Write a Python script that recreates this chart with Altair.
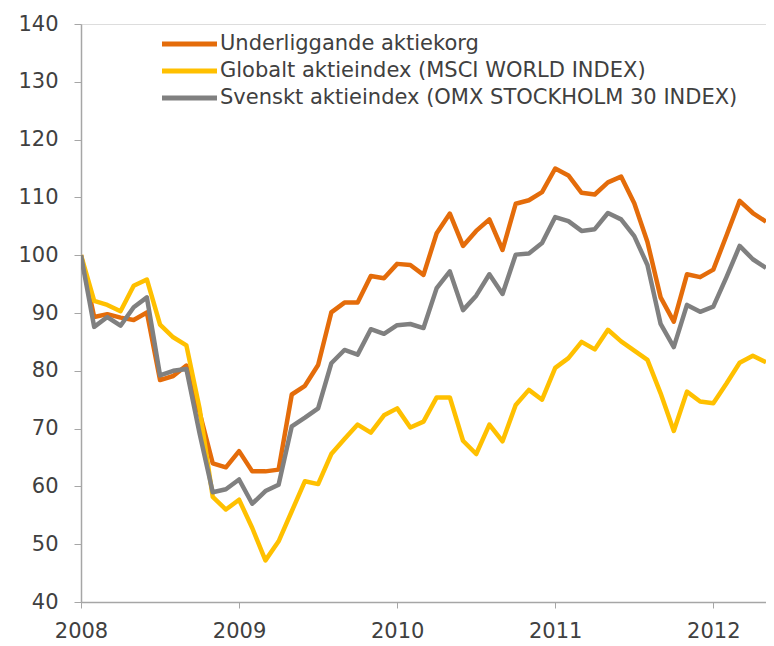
import altair as alt
import pandas as pd

series_names = [
    "Underliggande aktiekorg",
    "Globalt aktieindex (MSCI WORLD INDEX)",
    "Svenskt aktieindex (OMX STOCKHOLM 30 INDEX)",
]
colors = ["#E46C0A", "#FFC000", "#808080"]

# monthly values, Jan 2008 onward
underliggande = [100, 89.3, 89.8, 89.2, 88.8, 90.1, 78.4, 79.1, 80.9, 72.8,
                 64.0, 63.3, 66.1, 62.6, 62.6, 62.9, 75.9, 77.4, 81.0, 90.1,
                 91.8, 91.8, 96.4, 96.0, 98.5, 98.3, 96.6, 103.8, 107.2, 101.6,
                 104.2, 106.2, 100.9, 108.9, 109.5, 110.9, 115.0, 113.8, 110.8, 110.5,
                 112.6, 113.6, 109.0, 102.3, 92.7, 88.5, 96.7, 96.2, 97.5, 103.4,
                 109.4, 107.3, 105.8]
globalt = [100, 92.1, 91.4, 90.3, 94.7, 95.8, 88.0, 85.8, 84.4, 73.5,
           58.2, 56.0, 57.7, 52.8, 47.2, 50.5, 55.7, 60.9, 60.4, 65.6,
           68.2, 70.7, 69.3, 72.3, 73.5, 70.2, 71.2, 75.4, 75.4, 67.9,
           65.6, 70.7, 67.8, 74.1, 76.7, 75.0, 80.5, 82.2, 85.0, 83.7,
           87.1, 85.1, 83.5, 81.9, 76.1, 69.6, 76.4, 74.7, 74.4, 77.8,
           81.4, 82.6, 81.5]
svenskt = [100, 87.6, 89.3, 87.8, 91.0, 92.7, 79.2, 80.0, 80.3, 69.2,
           59.0, 59.5, 61.2, 57.0, 59.2, 60.3, 70.4, 71.9, 73.5, 81.3,
           83.6, 82.8, 87.2, 86.4, 87.9, 88.1, 87.4, 94.3, 97.2, 90.5,
           93.0, 96.7, 93.3, 100.1, 100.3, 102.1, 106.6, 105.9, 104.2, 104.5,
           107.3, 106.2, 103.3, 98.3, 88.1, 84.1, 91.4, 90.2, 91.1, 96.2,
           101.6, 99.3, 97.8]
year_ticks = [2008, 2009, 2010, 2011, 2012]
y_ticks = [40, 50, 60, 70, 80, 90, 100, 110, 120, 130, 140]

rows = []
for name, vals, order in zip(series_names, [underliggande, globalt, svenskt], [0, 1, 2]):
    for i, v in enumerate(vals):
        rows.append({"t": 2008 + i / 12.0, "value": v, "serie": name, "ord": order})
df = pd.DataFrame(rows)

legend_df = pd.DataFrame({"serie": series_names, "row": list(range(len(series_names)))})

FONT = "DejaVu Sans"
color_scale = alt.Scale(domain=series_names, range=colors)

lines = alt.Chart(df).mark_line(strokeWidth=4.5, strokeJoin="round", clip=True).encode(
    x=alt.X("t:Q",
            scale=alt.Scale(domain=[2008, 2008 + 52 / 12.0], nice=False, zero=False),
            axis=alt.Axis(values=year_ticks, format="d", title=None, grid=False,
                          tickSize=6, labelPadding=12, labelFontSize=21,
                          labelFont=FONT, labelColor="#404040",
                          domainColor="#a6a6a6", tickColor="#a6a6a6",
                          domainWidth=1.5, labelOverlap=False, labelFlush=False)),
    y=alt.Y("value:Q",
            scale=alt.Scale(domain=[40, 140], nice=False, zero=False),
            axis=alt.Axis(values=y_ticks, title=None, grid=False,
                          tickSize=7, labelPadding=16, labelFontSize=21,
                          labelFont=FONT, labelColor="#404040",
                          domainColor="#a6a6a6", tickColor="#a6a6a6",
                          domainWidth=1.5)),
    color=alt.Color("serie:N", scale=color_scale, legend=None),
    detail="serie:N",
    order="ord:Q",
)

legend_base = alt.Chart(legend_df).transform_calculate(
    py="20 + datum.row * 27"
)

legend_lines = legend_base.mark_rule(strokeWidth=5).encode(
    x=alt.value(81),
    x2=alt.value(136),
    y=alt.Y("py:Q", scale=None),
    color=alt.Color("serie:N", scale=color_scale, legend=None),
)

legend_text = legend_base.mark_text(
    align="left", baseline="middle", dx=0, fontSize=21, font=FONT, color="#404040"
).encode(
    x=alt.value(139),
    y=alt.Y("py:Q", scale=None),
    text="serie:N",
)

chart = alt.layer(lines, legend_lines, legend_text).properties(
    width=685,
    height=578,
    autosize=alt.AutoSizeParams(type="none"),
    padding={"left": 73, "top": 16, "right": 0, "bottom": 42},
).configure_view(stroke=None).configure(background="white")

chart.save("out.html", embed_options={"renderer": "svg", "actions": False})
